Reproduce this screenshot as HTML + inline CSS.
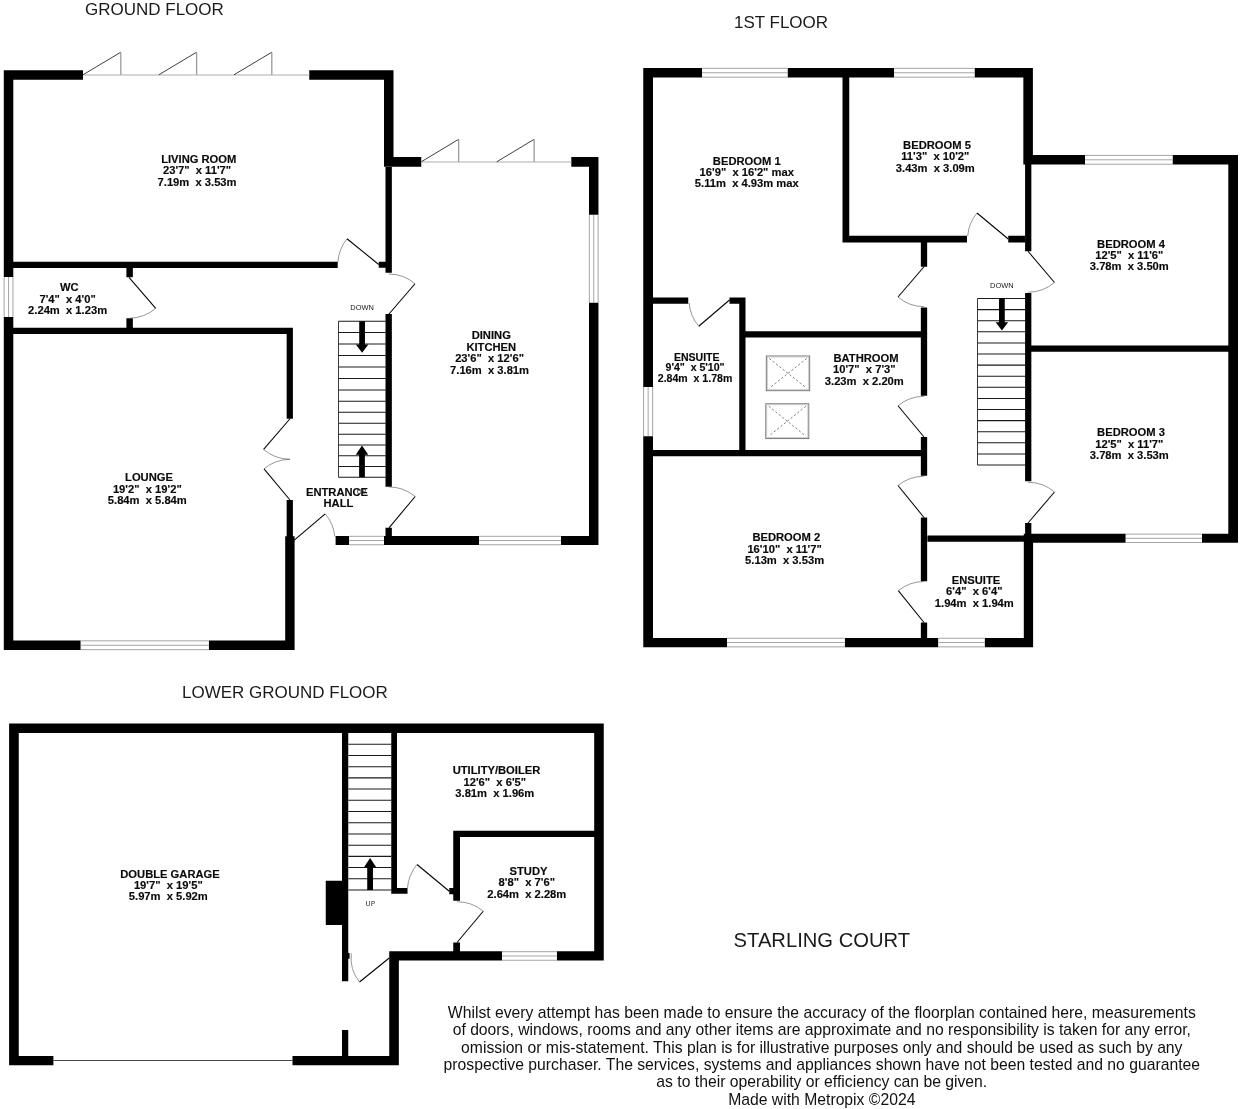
<!DOCTYPE html>
<html><head><meta charset="utf-8"><title>Starling Court floorplan</title>
<style>
html,body{margin:0;padding:0;background:#fff;}
body{width:1242px;height:1109px;overflow:hidden;}
svg{display:block;will-change:transform;}
text{font-family:"Liberation Sans",Arial,Helvetica,sans-serif;text-anchor:middle;fill:#1a1a1a;white-space:pre;}
.r{font-weight:bold;font-size:11.2px;fill:#0a0a0a;stroke:#0a0a0a;stroke-width:0.15px;}
.s{font-size:7.45px;fill:#161616;}
.u{font-family:"DejaVu Sans","Liberation Sans",sans-serif;font-size:7px;fill:#2a2a2a;}
.t{font-size:16px;}
.n{font-size:20.2px;}
.d{font-size:15.72px;fill:#111;}
</style></head><body>
<svg width="1242" height="1109" viewBox="0 0 1242 1109">
<rect width="1242" height="1109" fill="#fff"/>
<path fill="#000" d="M3.8 70.2H13.3V277H3.8ZM3.8 317H13.3V650H3.8ZM3.8 70.2H83V79.75H3.8ZM309.25 70.2H393.5V79.75H309.25ZM384 70.2H393.5V166.7H384ZM384 157.1H421.25V166.7H384ZM571.3 157.1H598.45V166.7H571.3ZM589 157.1H598.45V214.8H589ZM589 302.7H598.45V545.1H589ZM335.6 535.95H349.2V545.1H335.6ZM384 535.95H479V545.1H384ZM561 535.95H598.45V545.1H561ZM285.2 536.25H294.6V650H285.2ZM3.8 640.5H80.75V650H3.8ZM208.75 640.5H294.6V650H208.75ZM13.3 261.75H337.7V267.9H13.3ZM378.75 261.8H386V267.8H378.75ZM385.5 167H391.85V272.7H385.5ZM385.5 314.1H391.85V486.75H385.5ZM385.5 527.8H391.85V536.2H385.5ZM13.3 327.65H292.9V333.9H13.3ZM126.4 267.5H132.85V277.3H126.4ZM126.4 318.2H132.85V328H126.4ZM286.65 327.65H292.9V418.75H286.65ZM286.65 500H292.9V537H286.65ZM643.25 68H653V387H643.25ZM643.25 436.25H653V647.2H643.25ZM643.25 68H702V77.5H643.25ZM787.5 68H894.25V77.5H787.5ZM974.5 68H1032.9V77.5H974.5ZM1023.35 68H1032.9V164.55H1023.35ZM1023.35 155.05H1085V164.55H1023.35ZM1172.5 155.05H1238V164.55H1172.5ZM1228.3 155.05H1238V542.85H1228.3ZM1025 533.8H1125.75V542.85H1025ZM1201.9 533.8H1238V542.85H1201.9ZM1023.8 533.8H1033.1V647.2H1023.8ZM643.25 637.9H727V647.2H643.25ZM844.7 637.9H938.4V647.2H844.7ZM984.6 637.9H1033.1V647.2H984.6ZM842.5 77.5H849.25V242.5H842.5ZM842.5 235.75H967V242.5H842.5ZM1008.25 235.75H1025V242.5H1008.25ZM920.85 242.5H927.15V266.75H920.85ZM920.85 307.5H927.15V395.75H920.85ZM920.85 437H927.15V475.75H920.85ZM920.85 517.5H927.15V581.3H920.85ZM920.85 622.5H927.15V638H920.85ZM1025.1 164.25H1031.35V251.25H1025.1ZM1025.1 293H1031.35V481.25H1025.1ZM1025.1 523H1031.35V535H1025.1ZM653 297.5H688.25V303.75H653ZM729.5 297.5H745.5V303.75H729.5ZM739.25 297.5H745.5V456.25H739.25ZM745.5 331.25H927.15V337.5H745.5ZM653 450H927.15V456.25H653ZM1031 345.5H1228.5V351.75H1031ZM927.5 535.5H1025V541.75H927.5ZM9.1 723.5H18.75V1065.25H9.1ZM9.1 723.5H603.75V732.95H9.1ZM594.2 723.5H603.75V960.6H594.2ZM389.25 951.35H502V960.6H389.25ZM556.75 951.35H603.75V960.6H556.75ZM389.25 951.35H398.85V1065.25H389.25ZM9.1 1056H53.4V1065.25H9.1ZM292.5 1056H398.85V1065.25H292.5ZM342 732.5H348.25V981.25H342ZM342 1030H348.25V1056.25H342ZM391.25 732.5H397V893.75H391.25ZM391.25 888H407.5V893.75H391.25ZM449.25 888H460V894.25H449.25ZM453.25 830.75H460V900.75H453.25ZM453.25 942.5H460V951.75H453.25ZM453.25 830.75H594.5V837H453.25ZM325.75 880.75H342V925H325.75ZM346.25 953H349.6V958.75H346.25Z"/>
<line x1="4.15" y1="277" x2="4.15" y2="317" stroke="#858585" stroke-width="0.75"/>
<line x1="8.55" y1="277" x2="8.55" y2="317" stroke="#858585" stroke-width="0.75"/>
<line x1="12.95" y1="277" x2="12.95" y2="317" stroke="#858585" stroke-width="0.75"/>
<line x1="589.35" y1="214.8" x2="589.35" y2="302.7" stroke="#858585" stroke-width="0.75"/>
<line x1="593.725" y1="214.8" x2="593.725" y2="302.7" stroke="#858585" stroke-width="0.75"/>
<line x1="598.1" y1="214.8" x2="598.1" y2="302.7" stroke="#858585" stroke-width="0.75"/>
<rect x="349.2" y="535.95" width="34.8" height="9.15" fill="#fff"/>
<line x1="349.2" y1="536.3" x2="384" y2="536.3" stroke="#858585" stroke-width="0.75"/>
<line x1="349.2" y1="540.525" x2="384" y2="540.525" stroke="#858585" stroke-width="0.75"/>
<line x1="349.2" y1="544.75" x2="384" y2="544.75" stroke="#858585" stroke-width="0.75"/>
<rect x="479" y="535.95" width="82" height="9.15" fill="#fff"/>
<line x1="479" y1="536.3" x2="561" y2="536.3" stroke="#858585" stroke-width="0.75"/>
<line x1="479" y1="540.525" x2="561" y2="540.525" stroke="#858585" stroke-width="0.75"/>
<line x1="479" y1="544.75" x2="561" y2="544.75" stroke="#858585" stroke-width="0.75"/>
<rect x="80.75" y="640.5" width="128" height="9.5" fill="#fff"/>
<line x1="80.75" y1="640.85" x2="208.75" y2="640.85" stroke="#858585" stroke-width="0.75"/>
<line x1="80.75" y1="645.25" x2="208.75" y2="645.25" stroke="#858585" stroke-width="0.75"/>
<line x1="80.75" y1="649.65" x2="208.75" y2="649.65" stroke="#858585" stroke-width="0.75"/>
<rect x="702" y="68" width="85.5" height="9.5" fill="#fff"/>
<line x1="702" y1="68.35" x2="787.5" y2="68.35" stroke="#858585" stroke-width="0.75"/>
<line x1="702" y1="72.75" x2="787.5" y2="72.75" stroke="#858585" stroke-width="0.75"/>
<line x1="702" y1="77.15" x2="787.5" y2="77.15" stroke="#858585" stroke-width="0.75"/>
<rect x="894.25" y="68" width="80.25" height="9.5" fill="#fff"/>
<line x1="894.25" y1="68.35" x2="974.5" y2="68.35" stroke="#858585" stroke-width="0.75"/>
<line x1="894.25" y1="72.75" x2="974.5" y2="72.75" stroke="#858585" stroke-width="0.75"/>
<line x1="894.25" y1="77.15" x2="974.5" y2="77.15" stroke="#858585" stroke-width="0.75"/>
<rect x="1085" y="155.05" width="87.5" height="9.5" fill="#fff"/>
<line x1="1085" y1="155.4" x2="1172.5" y2="155.4" stroke="#858585" stroke-width="0.75"/>
<line x1="1085" y1="159.8" x2="1172.5" y2="159.8" stroke="#858585" stroke-width="0.75"/>
<line x1="1085" y1="164.2" x2="1172.5" y2="164.2" stroke="#858585" stroke-width="0.75"/>
<rect x="1125.75" y="533.8" width="76.15" height="9.05" fill="#fff"/>
<line x1="1125.75" y1="534.15" x2="1201.9" y2="534.15" stroke="#858585" stroke-width="0.75"/>
<line x1="1125.75" y1="538.325" x2="1201.9" y2="538.325" stroke="#858585" stroke-width="0.75"/>
<line x1="1125.75" y1="542.5" x2="1201.9" y2="542.5" stroke="#858585" stroke-width="0.75"/>
<rect x="727" y="637.9" width="117.7" height="9.3" fill="#fff"/>
<line x1="727" y1="638.25" x2="844.7" y2="638.25" stroke="#858585" stroke-width="0.75"/>
<line x1="727" y1="642.55" x2="844.7" y2="642.55" stroke="#858585" stroke-width="0.75"/>
<line x1="727" y1="646.85" x2="844.7" y2="646.85" stroke="#858585" stroke-width="0.75"/>
<rect x="938.4" y="637.9" width="46.2" height="9.3" fill="#fff"/>
<line x1="938.4" y1="638.25" x2="984.6" y2="638.25" stroke="#858585" stroke-width="0.75"/>
<line x1="938.4" y1="642.55" x2="984.6" y2="642.55" stroke="#858585" stroke-width="0.75"/>
<line x1="938.4" y1="646.85" x2="984.6" y2="646.85" stroke="#858585" stroke-width="0.75"/>
<line x1="643.6" y1="387" x2="643.6" y2="436.25" stroke="#858585" stroke-width="0.75"/>
<line x1="648.125" y1="387" x2="648.125" y2="436.25" stroke="#858585" stroke-width="0.75"/>
<line x1="652.65" y1="387" x2="652.65" y2="436.25" stroke="#858585" stroke-width="0.75"/>
<rect x="502" y="951.35" width="54.75" height="9.25" fill="#fff"/>
<line x1="502" y1="951.7" x2="556.75" y2="951.7" stroke="#858585" stroke-width="0.75"/>
<line x1="502" y1="955.975" x2="556.75" y2="955.975" stroke="#858585" stroke-width="0.75"/>
<line x1="502" y1="960.25" x2="556.75" y2="960.25" stroke="#858585" stroke-width="0.75"/>
<line x1="83" y1="75" x2="309.25" y2="75" stroke="#c8c8c8" stroke-width="1.3"/>
<line x1="421.25" y1="162" x2="571.3" y2="162" stroke="#c8c8c8" stroke-width="1.3"/>
<line x1="53.4" y1="1060.5" x2="292.5" y2="1060.5" stroke="#333" stroke-width="0.9"/>
<path d="M83 74.8 L120.8 52.2" stroke="#2a2a2a" stroke-width="0.9" fill="none"/>
<path d="M120.8 52.5 L120.8 74.8" stroke="#9a9a9a" stroke-width="1.3" fill="none"/>
<path d="M158.8 74.8 L196.6 52.2" stroke="#2a2a2a" stroke-width="0.9" fill="none"/>
<path d="M196.6 52.5 L196.6 74.8" stroke="#9a9a9a" stroke-width="1.3" fill="none"/>
<path d="M234 74.8 L271.8 52.2" stroke="#2a2a2a" stroke-width="0.9" fill="none"/>
<path d="M271.8 52.5 L271.8 74.8" stroke="#9a9a9a" stroke-width="1.3" fill="none"/>
<path d="M421.25 161.8 L458.65 139.3" stroke="#2a2a2a" stroke-width="0.9" fill="none"/>
<path d="M458.65 139.6 L458.65 161.8" stroke="#9a9a9a" stroke-width="1.3" fill="none"/>
<path d="M496.75 161.8 L534.15 139.3" stroke="#2a2a2a" stroke-width="0.9" fill="none"/>
<path d="M534.15 139.6 L534.15 161.8" stroke="#9a9a9a" stroke-width="1.3" fill="none"/>
<path d="M378.75 264.5 L347 238.75" stroke="#000" stroke-width="1.05" fill="none"/>
<path d="M347 238.75 A40.88 40.88 0 0 0 337.95 262.03" stroke="#505050" stroke-width="0.6" fill="none"/>
<path d="M129 277.3 L155.7 308.3" stroke="#000" stroke-width="1.05" fill="none"/>
<path d="M155.7 308.3 A40.91 40.91 0 0 1 129.50 318.21" stroke="#505050" stroke-width="0.6" fill="none"/>
<path d="M290 418.75 L263.6 449.4" stroke="#000" stroke-width="1.05" fill="none"/>
<path d="M263.6 449.4 A40.45 40.45 0 0 0 290.00 459.20" stroke="#505050" stroke-width="0.6" fill="none"/>
<path d="M290 500 L264 468.8" stroke="#000" stroke-width="1.05" fill="none"/>
<path d="M264 468.8 A40.61 40.61 0 0 1 290.00 459.39" stroke="#505050" stroke-width="0.6" fill="none"/>
<path d="M388.75 314.25 L415 283.75" stroke="#000" stroke-width="1.05" fill="none"/>
<path d="M415 283.75 A40.24 40.24 0 0 0 388.75 274.01" stroke="#505050" stroke-width="0.6" fill="none"/>
<path d="M389 527.8 L415.2 496.5" stroke="#000" stroke-width="1.05" fill="none"/>
<path d="M415.2 496.5 A40.82 40.82 0 0 0 389.00 486.98" stroke="#505050" stroke-width="0.6" fill="none"/>
<path d="M294 540.3 L325.2 513.8" stroke="#000" stroke-width="1.05" fill="none"/>
<path d="M325.2 513.8 A40.94 40.94 0 0 1 334.77 536.58" stroke="#505050" stroke-width="0.6" fill="none"/>
<path d="M924 266.75 L898 297" stroke="#000" stroke-width="1.05" fill="none"/>
<path d="M898 297 A39.89 39.89 0 0 0 924.00 306.64" stroke="#505050" stroke-width="0.6" fill="none"/>
<path d="M729.5 300 L698.75 326.25" stroke="#000" stroke-width="1.05" fill="none"/>
<path d="M698.75 326.25 A40.43 40.43 0 0 1 689.18 302.93" stroke="#505050" stroke-width="0.6" fill="none"/>
<path d="M1008.25 239 L977 213" stroke="#000" stroke-width="1.05" fill="none"/>
<path d="M977 213 A40.65 40.65 0 0 0 967.71 236.05" stroke="#505050" stroke-width="0.6" fill="none"/>
<path d="M1028 251.25 L1054.5 282.5" stroke="#000" stroke-width="1.05" fill="none"/>
<path d="M1054.5 282.5 A40.97 40.97 0 0 1 1028.00 292.22" stroke="#505050" stroke-width="0.6" fill="none"/>
<path d="M924 437 L898 405.75" stroke="#000" stroke-width="1.05" fill="none"/>
<path d="M898 405.75 A40.65 40.65 0 0 1 924.00 396.35" stroke="#505050" stroke-width="0.6" fill="none"/>
<path d="M924 517.5 L898 485.5" stroke="#000" stroke-width="1.05" fill="none"/>
<path d="M898 485.5 A41.23 41.23 0 0 1 924.00 476.27" stroke="#505050" stroke-width="0.6" fill="none"/>
<path d="M1028 523 L1054.5 492" stroke="#000" stroke-width="1.05" fill="none"/>
<path d="M1054.5 492 A40.78 40.78 0 0 0 1028.00 482.22" stroke="#505050" stroke-width="0.6" fill="none"/>
<path d="M924 622.5 L898.3 590.6" stroke="#000" stroke-width="1.05" fill="none"/>
<path d="M898.3 590.6 A40.96 40.96 0 0 1 924.00 581.54" stroke="#505050" stroke-width="0.6" fill="none"/>
<path d="M449.25 891.25 L417 864.5" stroke="#000" stroke-width="1.05" fill="none"/>
<path d="M417 864.5 A41.90 41.90 0 0 0 407.48 888.00" stroke="#505050" stroke-width="0.6" fill="none"/>
<path d="M457 942.5 L483.25 911.25" stroke="#000" stroke-width="1.05" fill="none"/>
<path d="M483.25 911.25 A40.81 40.81 0 0 0 457.00 901.69" stroke="#505050" stroke-width="0.6" fill="none"/>
<path d="M389.25 958 L359.5 982" stroke="#000" stroke-width="1.05" fill="none"/>
<path d="M359.5 982 A38.22 38.22 0 0 1 351.31 953.37" stroke="#505050" stroke-width="0.6" fill="none"/>
<path d="M338.5 321.2H385.75M338.5 332.5H385.75M338.5 344H385.75M338.5 355.5H385.75M338.5 367H385.75M338.5 378.5H385.75M338.5 390H385.75M338.5 401.3H385.75M338.5 412.3H385.75M338.5 423.3H385.75M338.5 434.2H385.75M338.5 445H385.75M338.5 455.7H385.75M338.5 466.5H385.75M338.5 477.2H385.75" stroke="#1a1a1a" stroke-width="1.05" fill="none"/>
<path d="M338.5 321.2V477.2" stroke="#222" stroke-width="0.9" fill="none"/>
<path d="M977.5 298.5H1025M977.5 309.6H1025M977.5 320.7H1025M977.5 331.8H1025M977.5 342.9H1025M977.5 354H1025M977.5 365.1H1025M977.5 376.2H1025M977.5 387.3H1025M977.5 398.4H1025M977.5 409.5H1025M977.5 420.6H1025M977.5 431.7H1025M977.5 442.8H1025M977.5 453.9H1025M977.5 465H1025" stroke="#1a1a1a" stroke-width="1.05" fill="none"/>
<path d="M977.5 298.5V465" stroke="#222" stroke-width="0.9" fill="none"/>
<path d="M348.25 744.25H391.25M348.25 755.462H391.25M348.25 766.673H391.25M348.25 777.885H391.25M348.25 789.096H391.25M348.25 800.308H391.25M348.25 811.519H391.25M348.25 822.731H391.25M348.25 833.942H391.25M348.25 845.154H391.25M348.25 856.365H391.25M348.25 867.577H391.25M348.25 878.788H391.25M348.25 890H391.25" stroke="#1a1a1a" stroke-width="1.05" fill="none"/>
<path d="M359.225 321.2H364.975V344.4H368.35L362.1 352.75L355.85 344.4H359.225Z" fill="#000"/>
<path d="M359.125 477.2H364.875V454.7H368.25L362 445.5L355.75 454.7H359.125Z" fill="#000"/>
<path d="M999.025 298H1004.77V322.3H1008.15L1001.9 330.4L995.65 322.3H999.025Z" fill="#000"/>
<path d="M367.225 890H372.975V867.5H376.35L370.1 858L363.85 867.5H367.225Z" fill="#000"/>
<rect x="766.3" y="356" width="43.4" height="34.7" fill="none" stroke="#6a6a6a" stroke-width="0.9"/>
<rect x="767.3" y="357" width="41.4" height="32.7" fill="none" stroke="#bdbdbd" stroke-width="0.7"/>
<path d="M769.3 358.5L806.7 388.2M806.7 358.5L769.3 388.2" stroke="#5a5a5a" stroke-width="0.8" stroke-dasharray="2.2 2.1" fill="none"/>
<rect x="765.8" y="403.8" width="43" height="34.8" fill="none" stroke="#6a6a6a" stroke-width="0.9"/>
<rect x="766.8" y="404.8" width="41" height="32.8" fill="none" stroke="#bdbdbd" stroke-width="0.7"/>
<path d="M768.8 406.3L805.8 436.1M805.8 406.3L768.8 436.1" stroke="#5a5a5a" stroke-width="0.8" stroke-dasharray="2.2 2.1" fill="none"/>
<text x="198.75" y="163" class="r">LIVING ROOM</text>
<text x="197.05" y="174.45" class="r">23&#39;7&quot;  x 11&#39;7&quot;</text>
<text x="197.05" y="185.9" class="r">7.19m  x 3.53m</text>
<text x="69.3" y="291.25" class="r">WC</text>
<text x="67.6" y="302.7" class="r">7&#39;4&quot;  x 4&#39;0&quot;</text>
<text x="67.6" y="314.15" class="r">2.24m  x 1.23m</text>
<text x="149" y="481.25" class="r">LOUNGE</text>
<text x="147.3" y="492.7" class="r">19&#39;2&quot;  x 19&#39;2&quot;</text>
<text x="147.3" y="504.15" class="r">5.84m  x 5.84m</text>
<text x="491.25" y="339.25" class="r">DINING</text>
<text x="491.25" y="350.7" class="r">KITCHEN</text>
<text x="489.55" y="362.15" class="r">23&#39;6&quot;  x 12&#39;6&quot;</text>
<text x="489.55" y="373.6" class="r">7.16m  x 3.81m</text>
<text x="337" y="495.6" class="r">ENTRANCE</text>
<text x="338.4" y="507" class="r">HALL</text>
<text x="746.75" y="164.5" class="r">BEDROOM 1</text>
<text x="746.75" y="175.95" class="r">16&#39;9&quot;  x 16&#39;2&quot; max</text>
<text x="746.75" y="187.4" class="r">5.11m  x 4.93m max</text>
<text x="937" y="148.8" class="r">BEDROOM 5</text>
<text x="935.3" y="160.25" class="r">11&#39;3&quot;  x 10&#39;2&quot;</text>
<text x="935.3" y="171.7" class="r">3.43m  x 3.09m</text>
<text x="1131" y="247.5" class="r">BEDROOM 4</text>
<text x="1129.3" y="258.95" class="r">12&#39;5&quot;  x 11&#39;6&quot;</text>
<text x="1129.3" y="270.4" class="r">3.78m  x 3.50m</text>
<text x="1131" y="436.25" class="r">BEDROOM 3</text>
<text x="1129.3" y="447.7" class="r">12&#39;5&quot;  x 11&#39;7&quot;</text>
<text x="1129.3" y="459.15" class="r">3.78m  x 3.53m</text>
<text x="696.75" y="360.7" class="r" style="font-size:10.55px">ENSUITE</text>
<text x="695.05" y="371.3" class="r" style="font-size:10.55px">9&#39;4&quot;  x 5&#39;10&quot;</text>
<text x="695.05" y="381.9" class="r" style="font-size:10.55px">2.84m  x 1.78m</text>
<text x="866" y="362" class="r">BATHROOM</text>
<text x="864.3" y="373.45" class="r">10&#39;7&quot;  x 7&#39;3&quot;</text>
<text x="864.3" y="384.9" class="r">3.23m  x 2.20m</text>
<text x="786.3" y="541.25" class="r">BEDROOM 2</text>
<text x="784.6" y="552.7" class="r">16&#39;10&quot;  x 11&#39;7&quot;</text>
<text x="784.6" y="564.15" class="r">5.13m  x 3.53m</text>
<text x="976" y="583.7" class="r">ENSUITE</text>
<text x="974.3" y="595.15" class="r">6&#39;4&quot;  x 6&#39;4&quot;</text>
<text x="974.3" y="606.6" class="r">1.94m  x 1.94m</text>
<text x="170" y="877.5" class="r">DOUBLE GARAGE</text>
<text x="168.3" y="888.95" class="r">19&#39;7&quot;  x 19&#39;5&quot;</text>
<text x="168.3" y="900.4" class="r">5.97m  x 5.92m</text>
<text x="496.5" y="774.25" class="r">UTILITY/BOILER</text>
<text x="494.8" y="785.7" class="r">12&#39;6&quot;  x 6&#39;5&quot;</text>
<text x="494.8" y="797.15" class="r">3.81m  x 1.96m</text>
<text x="528.5" y="875" class="r">STUDY</text>
<text x="526.8" y="886.45" class="r">8&#39;8&quot;  x 7&#39;6&quot;</text>
<text x="526.8" y="897.9" class="r">2.64m  x 2.28m</text>
<text x="362.1" y="310.3" class="s">DOWN</text>
<text x="361.5" y="494" class="s u">UP</text>
<text x="1001.9" y="288" class="s">DOWN</text>
<text x="370.3" y="905.7" class="s u">UP</text>
<text transform="translate(154.4 15.2) scale(1.063 1)" class="t">GROUND FLOOR</text>
<text transform="translate(781 27.5) scale(1.063 1)" class="t">1ST FLOOR</text>
<text transform="translate(284.9 698.4) scale(1.063 1)" class="t">LOWER GROUND FLOOR</text>
<text x="821.85" y="947.2" class="n">STARLING COURT</text>
<text x="821.8" y="1017.9" class="d">Whilst every attempt has been made to ensure the accuracy of the floorplan contained here, measurements</text>
<text x="821.8" y="1035.28" class="d">of doors, windows, rooms and any other items are approximate and no responsibility is taken for any error,</text>
<text x="821.8" y="1052.66" class="d">omission or mis-statement. This plan is for illustrative purposes only and should be used as such by any</text>
<text x="821.8" y="1070.04" class="d">prospective purchaser. The services, systems and appliances shown have not been tested and no guarantee</text>
<text x="821.8" y="1087.42" class="d">as to their operability or efficiency can be given.</text>
<text x="821.8" y="1104.8" class="d">Made with Metropix ©2024</text>
</svg>
</body></html>
